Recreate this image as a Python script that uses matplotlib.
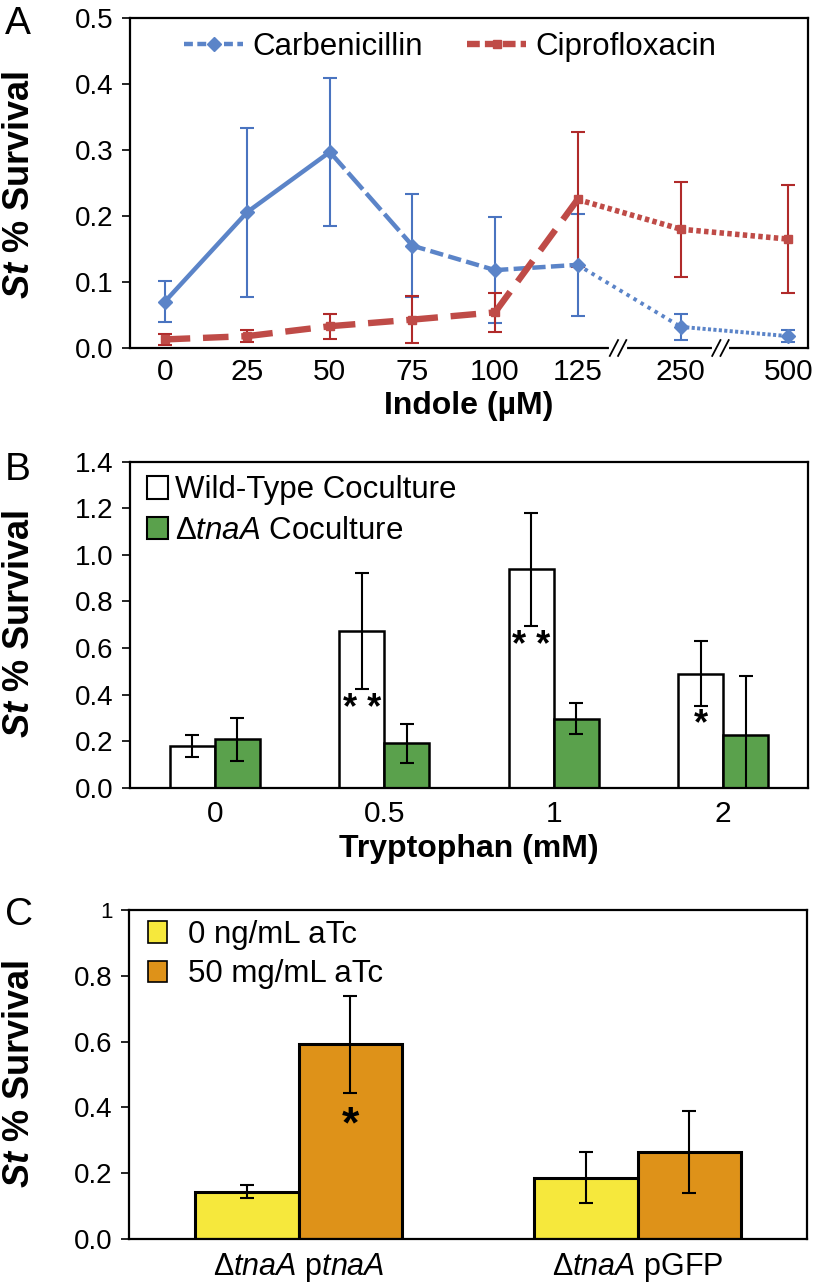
import matplotlib
matplotlib.use('Agg')
import matplotlib.pyplot as plt
from matplotlib.lines import Line2D
from matplotlib.patches import Patch
import numpy as np

# ── Fonts ─────────────────────────────────────────────────────────────────────
plt.rcParams['font.family'] = ['Liberation Sans', 'DejaVu Sans']
plt.rcParams['mathtext.fontset'] = 'custom'
plt.rcParams['mathtext.rm'] = 'Liberation Sans'
plt.rcParams['mathtext.it'] = 'Liberation Sans:italic'
plt.rcParams['mathtext.bf'] = 'Liberation Sans:bold'
plt.rcParams['mathtext.bfit'] = 'Liberation Sans:bold:italic'

# ── Data: panel A ─────────────────────────────────────────────────────────────
indole_labels = ['0', '25', '50', '75', '100', '125', '250', '500']
indole_pos    = [0, 1, 2, 3, 4, 5, 6.25, 7.55]     # broken axis positions
carb_mean = [0.070, 0.206, 0.297, 0.155, 0.118, 0.126, 0.032, 0.018]
carb_err  = [0.031, 0.128, 0.112, 0.078, 0.080, 0.077, 0.020, 0.009]
cipro_mean = [0.013, 0.018, 0.033, 0.043, 0.054, 0.225, 0.180, 0.165]
cipro_err  = [0.008, 0.009, 0.019, 0.036, 0.030, 0.102, 0.072, 0.082]

# ── Data: panel B ─────────────────────────────────────────────────────────────
trp_labels = ['0', '0.5', '1', '2']
wt_mean   = [0.179, 0.672, 0.937, 0.490]
wt_err    = [0.048, 0.250, 0.243, 0.141]
tna_mean  = [0.208, 0.190, 0.297, 0.228]
tna_err   = [0.092, 0.085, 0.068, 0.250]
wt_stars  = ['', '* *', '* *', '*']
wt_star_y = [0, 0.335, 0.607, 0.27]

# ── Data: panel C ─────────────────────────────────────────────────────────────
c_labels  = [r'Δ$\mathit{tnaA}$ p$\mathit{tnaA}$', r'Δ$\mathit{tnaA}$ pGFP']
atc0_mean = [0.144, 0.186]
atc0_err  = [0.020, 0.078]
atc50_mean = [0.592, 0.265]
atc50_err  = [0.147, 0.125]
atc50_star_y = [0.345, None]

# ── Style ─────────────────────────────────────────────────────────────────────
BLUE      = '#5b84c8'
BLUE_ERR  = '#4a74c0'
RED       = '#bf4b47'
RED_ERR   = '#b02a2a'
GREEN     = '#5aa14c'
YELLOW    = '#f6e83c'
ORANGE    = '#de9219'
YTICK_FS  = 20
XTICK_FS  = 21.5
LEG_FS    = 22.5
XLAB_FS   = 23
YLAB_FS   = 26
LET_FS    = 28
ERR_KW    = dict(elinewidth=1.5, capsize=5, capthick=1.5)

W, H = 813, 1285
fig = plt.figure(figsize=(W / 100, H / 100), dpi=100)

def ax_rect(left, top, right, bottom):
    return [left / W, 1 - bottom / H, (right - left) / W, (bottom - top) / H]

def fig_xy(x, y):
    return (x / W, 1 - y / H)

def style_axes(ax):
    for s in ax.spines.values():
        s.set_linewidth(1.6)
        s.set_color('black')
    ax.tick_params(axis='y', direction='out', length=6, width=1.2, pad=6,
                   labelsize=YTICK_FS)
    ax.tick_params(axis='x', length=0, labelsize=XTICK_FS)

def ylabel(yc):
    fig.text(20 / W, 1 - yc / H, r'$\mathbfit{St}$ % Survival',
             rotation=90, ha='center', va='center', fontsize=YLAB_FS,
             fontweight='bold')

# ── Panel A ───────────────────────────────────────────────────────────────────
axA = fig.add_axes(ax_rect(130, 18, 808, 348))
style_axes(axA)
axA.set_xlim(-0.42, 7.79)
axA.set_ylim(0, 0.5)
axA.set_yticks(np.arange(0, 0.51, 0.1))
axA.set_yticklabels([f'{v:.1f}' for v in np.arange(0, 0.51, 0.1)])
axA.set_xticks(indole_pos)
axA.set_xticklabels(indole_labels)
axA.tick_params(axis='x', pad=7)

carb_styles = [dict(ls='-', lw=3.2), dict(ls='-', lw=3.2),
               dict(ls=(0, (5, 1.2)), lw=3.2), dict(ls=(0, (3, 1.2)), lw=3.2),
               dict(ls=(0, (3, 1.2)), lw=3.2),
               dict(ls=(0, (0.9, 1.2)), lw=2.8), dict(ls=(0, (0.8, 0.6)), lw=2.8)]
cipro_styles = [dict(ls=(0, (4, 2)), lw=4.6)] * 5 + \
               [dict(ls=(0, (0.8, 0.6)), lw=4.0)] * 2

axA.errorbar(indole_pos, carb_mean, yerr=carb_err, fmt='none', ecolor=BLUE_ERR,
             zorder=2, **ERR_KW)
axA.errorbar(indole_pos, cipro_mean, yerr=cipro_err, fmt='none', ecolor=RED_ERR,
             zorder=2, **ERR_KW)
for i, st in enumerate(carb_styles):
    axA.plot(indole_pos[i:i + 2], carb_mean[i:i + 2], color=BLUE,
             solid_capstyle='round', zorder=3, **st)
for i, st in enumerate(cipro_styles):
    axA.plot(indole_pos[i:i + 2], cipro_mean[i:i + 2], color=RED,
             dash_capstyle='butt', zorder=3, **st)
axA.plot(indole_pos, carb_mean, ls='none', marker='D', ms=7, color=BLUE, zorder=4)
axA.plot(indole_pos, cipro_mean, ls='none', marker='s', ms=6, color=RED, zorder=4)

# axis break marks
for xb in (5.49, 6.73):
    axA.plot([xb - 0.08, xb + 0.08], [0, 0], color='white', lw=3,
             clip_on=False, zorder=5)
    for dx in (-0.05, 0.05):
        axA.plot([xb + dx - 0.05, xb + dx + 0.05], [-0.012, 0.012], color='black',
                 lw=1.3, clip_on=False, zorder=6)

handlesA = [Line2D([], [], color=BLUE, ls=(0, (2, 1)), lw=3.2, marker='D', ms=7),
            Line2D([], [], color=RED, ls=(0, (2, 0.8)), lw=4.6, marker='s', ms=6)]
axA.legend(handlesA, ['Carbenicillin', 'Ciprofloxacin'], ncol=2,
           loc='upper left', bbox_to_anchor=fig_xy(184, 32),
           bbox_transform=fig.transFigure, borderpad=0, borderaxespad=0,
           frameon=False, fontsize=LEG_FS, handlelength=1.9,
           columnspacing=1.4, handletextpad=0.3)
axA.set_xlabel('Indole (µM)', fontsize=XLAB_FS, fontweight='bold', labelpad=4)
ylabel(185)

# ── Panel B ───────────────────────────────────────────────────────────────────
axB = fig.add_axes(ax_rect(130, 461.6, 808, 787.7))
style_axes(axB)
xB = np.arange(len(trp_labels))
bw = 0.265
axB.set_xlim(-0.5, 3.5)
axB.set_ylim(0, 1.4)
axB.set_yticks(np.arange(0, 1.41, 0.2))
axB.set_yticklabels([f'{v:.1f}' for v in np.arange(0, 1.41, 0.2)])
axB.bar(xB - bw / 2, wt_mean, bw, color='white', edgecolor='black', lw=1.8,
        yerr=wt_err, error_kw=ERR_KW)
axB.bar(xB + bw / 2, tna_mean, bw, color=GREEN, edgecolor='black', lw=1.8,
        yerr=tna_err, error_kw=ERR_KW)
for x, s, y in zip(xB, wt_stars, wt_star_y):
    if s:
        axB.text(x - bw / 2, y, s, ha='center', va='center', fontsize=26,
                 fontweight='bold')
axB.set_xticks(xB)
axB.set_xticklabels(trp_labels)
axB.tick_params(axis='x', pad=9)
handlesB = [Patch(facecolor='white', edgecolor='black', lw=1.5),
            Patch(facecolor=GREEN, edgecolor='black', lw=1.5)]
axB.legend(handlesB, ['Wild-Type Coculture', r'Δ$\mathit{tnaA}$ Coculture'],
           loc='upper left', bbox_to_anchor=fig_xy(147, 475),
           bbox_transform=fig.transFigure, borderpad=0, borderaxespad=0,
           frameon=False, fontsize=LEG_FS, handlelength=0.66,
           handleheight=0.75, handletextpad=0.25, labelspacing=0.35)
axB.set_xlabel('Tryptophan (mM)', fontsize=XLAB_FS, fontweight='bold', labelpad=4)
ylabel(624)

# ── Panel C ───────────────────────────────────────────────────────────────────
axC = fig.add_axes(ax_rect(129, 910, 807, 1239))
style_axes(axC)
xC = np.arange(len(c_labels))
cw = 0.306
axC.set_xlim(-0.5, 1.5)
axC.set_ylim(0, 1.0)
axC.set_yticks(np.arange(0, 1.01, 0.2))
axC.set_yticklabels(['0.0', '0.2', '0.4', '0.6', '0.8', '1'])
axC.get_yticklabels()[-1].set_fontsize(16)
axC.bar(xC - cw / 2, atc0_mean, cw, color=YELLOW, edgecolor='black', lw=2.2,
        yerr=atc0_err, error_kw=ERR_KW)
axC.bar(xC + cw / 2, atc50_mean, cw, color=ORANGE, edgecolor='black', lw=2.2,
        yerr=atc50_err, error_kw=ERR_KW)
for x, y in zip(xC, atc50_star_y):
    if y is not None:
        axC.text(x + cw / 2, y, '*', ha='center', va='center', fontsize=32,
                 fontweight='bold')
axC.set_xticks(xC)
axC.set_xticklabels(c_labels, fontsize=22)
axC.tick_params(axis='x', pad=9)
handlesC = [Patch(facecolor=YELLOW, edgecolor='black', lw=1.2),
            Patch(facecolor=ORANGE, edgecolor='black', lw=1.2)]
axC.legend(handlesC, ['0 ng/mL aTc', '50 mg/mL aTc'], loc='upper left',
           bbox_to_anchor=fig_xy(148, 920), bbox_transform=fig.transFigure,
           borderpad=0, borderaxespad=0, frameon=False, fontsize=LEG_FS,
           handlelength=0.62, handleheight=0.7, handletextpad=0.65,
           labelspacing=0.3)
ylabel(1074)

# ── Panel letters ─────────────────────────────────────────────────────────────
for letter, y in (('A', 24), ('B', 470), ('C', 915)):
    fig.text(5 / W, 1 - y / H, letter, fontsize=LET_FS, ha='left', va='center')

fig.savefig('out.png', dpi=100, facecolor='white')
